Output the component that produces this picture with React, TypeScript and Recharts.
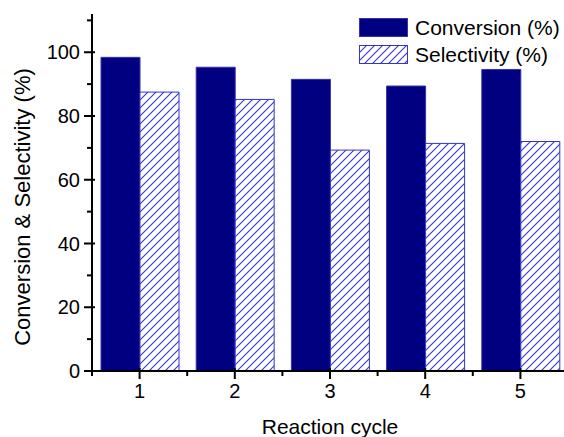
import React from 'react';
import { BarChart, Bar, XAxis, YAxis } from 'recharts';

const cycles = ['1', '2', '3', '4', '5'];
const conversion = [98.4, 95.3, 91.5, 89.4, 94.6];
const selectivity = [87.5, 85.2, 69.3, 71.4, 72.0];
const yTicks = [0, 10, 20, 30, 40, 50, 60, 70, 80, 90, 100, 110];

const data = cycles.map((c, i) => ({ cycle: c, conversion: conversion[i], selectivity: selectivity[i] }));

const FONT = "Arial, 'Liberation Sans', sans-serif";
const HATCH = '#3434d0';
const W = 580;
const H = 437;
const LEFT = 92;
const RIGHT = 12;
const HALF_BAND = (W - LEFT - RIGHT) / cycles.length / 2;

const BottomTick = (props: any) => {
  const { x, y, payload } = props;
  return (
    <g>
      <line x1={x} x2={x} y1={y - 3} y2={y + 8} stroke="#000" strokeWidth={2} />
      <line x1={x - HALF_BAND} x2={x - HALF_BAND} y1={y} y2={y + 5} stroke="#000" strokeWidth={2} />
      <text x={x} y={y + 27} textAnchor="middle" fontSize={20} fontFamily={FONT} fill="#000">
        {payload.value}
      </text>
    </g>
  );
};

const TopTick = (props: any) => {
  const { x, y } = props;
  return (
    <g>
      <line x1={x} x2={x} y1={y} y2={y + 5} stroke="#000" strokeWidth={2} />
      <line x1={x - HALF_BAND} x2={x - HALF_BAND} y1={y} y2={y + 5} stroke="#000" strokeWidth={2} />
    </g>
  );
};

const LeftTick = (props: any) => {
  const { x, y, payload } = props;
  const major = payload.value % 20 === 0;
  if (!major) {
    return <line x1={x - 5} x2={x} y1={y} y2={y} stroke="#000" strokeWidth={2} />;
  }
  return (
    <g>
      <line x1={x - 8} x2={x + 3} y1={y} y2={y} stroke="#000" strokeWidth={2} />
      <text x={x - 12} y={y} dy="0.36em" textAnchor="end" fontSize={20} fontFamily={FONT} fill="#000">
        {payload.value}
      </text>
    </g>
  );
};

const LegendBox = () => (
  <div style={{ position: 'absolute', left: 359, top: 14, fontFamily: FONT, fontSize: 21, color: '#000', lineHeight: 1, whiteSpace: 'nowrap' }}>
    <div style={{ display: 'flex', alignItems: 'center', height: 27 }}>
      <svg width={49} height={19} style={{ marginRight: 7, flexShrink: 0 }}>
        <rect x={0.5} y={0.5} width={48} height={18} fill="#000080" stroke="#3333aa" />
      </svg>
      Conversion (%)
    </div>
    <div style={{ display: 'flex', alignItems: 'center', height: 27 }}>
      <svg width={49} height={19} style={{ marginRight: 7, flexShrink: 0 }}>
        <rect x={0.5} y={0.5} width={48} height={18} fill="url(#hatch)" stroke={HATCH} />
      </svg>
      Selectivity (%)
    </div>
  </div>
);

export default function App() {
  return (
    <div style={{ position: 'absolute', left: 0, top: 0, width: 564, height: H, overflow: 'hidden', background: '#fff' }}>
      <BarChart
        width={W}
        height={H}
        data={data}
        margin={{ top: 14, right: RIGHT, bottom: 0, left: 0 }}
        barCategoryGap={9}
        barGap={0}
      >
        <defs>
          <pattern id="hatch" patternUnits="userSpaceOnUse" width={8} height={8}>
            <rect width={8} height={8} fill="#fff" />
            <line x1={-1} y1={9} x2={9} y2={-1} stroke={HATCH} strokeWidth={1.1} />
            <line x1={-1} y1={1} x2={1} y2={-1} stroke={HATCH} strokeWidth={1.1} />
            <line x1={7} y1={9} x2={9} y2={7} stroke={HATCH} strokeWidth={1.1} />
          </pattern>
        </defs>
        <XAxis
          dataKey="cycle"
          xAxisId="bottom"
          height={66}
          tickSize={0}
          tickMargin={0}
          tickLine={false}
          axisLine={{ stroke: '#000', strokeWidth: 2 }}
          tick={<BottomTick />}
          interval={0}
        />
        <XAxis
          dataKey="cycle"
          xAxisId="top"
          orientation="top"
          height={0}
          tickSize={0}
          tickMargin={0}
          tickLine={false}
          axisLine={{ stroke: '#000', strokeWidth: 2 }}
          tick={<TopTick />}
          interval={0}
        />
        <YAxis
          width={LEFT}
          domain={[0, 112]}
          ticks={yTicks}
          interval={0}
          allowDataOverflow
          tickSize={0}
          tickMargin={0}
          tickLine={false}
          axisLine={{ stroke: '#000', strokeWidth: 2 }}
          tick={<LeftTick />}
        />
        <Bar
          dataKey="conversion"
          xAxisId="bottom"
          fill="#000080"
          stroke="#3333aa"
          strokeWidth={1}
          isAnimationActive={false}
        />
        <Bar
          dataKey="selectivity"
          xAxisId="bottom"
          fill="url(#hatch)"
          stroke={HATCH}
          strokeWidth={1}
          isAnimationActive={false}
        />
        <text x={22} y={207} transform="rotate(-90 22 207)" textAnchor="middle" dominantBaseline="central" fontSize={22} fontFamily={FONT} fill="#000">
          Conversion &amp; Selectivity (%)
        </text>
        <text x={330} y={434} textAnchor="middle" fontSize={21} fontFamily={FONT} fill="#000">
          Reaction cycle
        </text>
      </BarChart>
      <LegendBox />
    </div>
  );
}
